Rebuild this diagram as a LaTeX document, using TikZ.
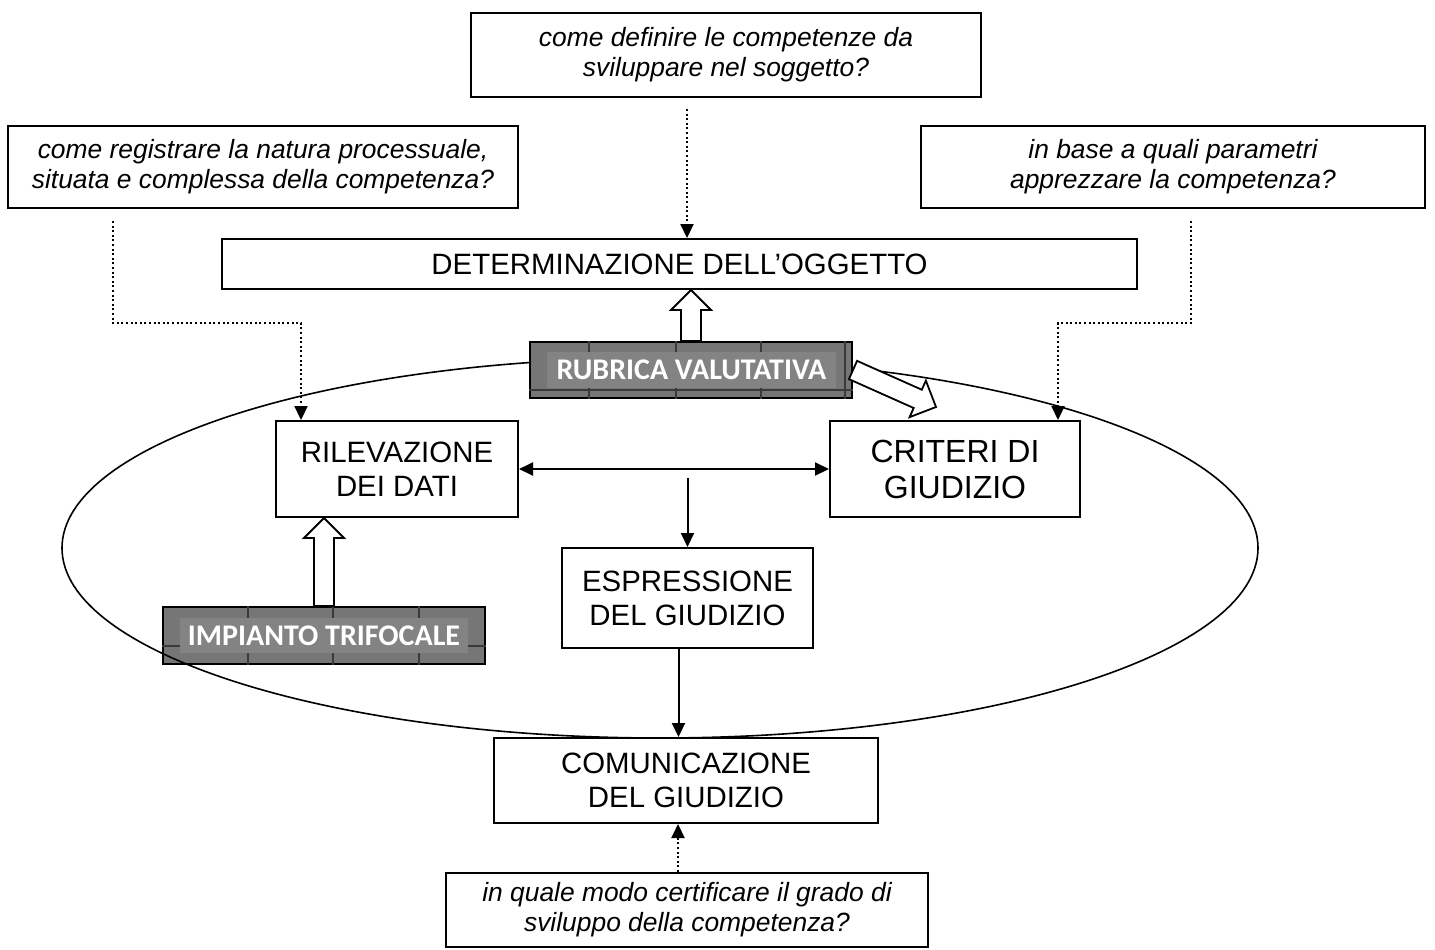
\documentclass[tikz,border=0pt]{standalone}
\usepackage[svgnames]{xcolor}
\usepackage{fontspec}
\setmainfont{Liberation Sans}
\newfontfamily\labelfamily{Carlito}
\usetikzlibrary{calc,arrows.meta}
\definecolor{rubricFill}{HTML}{767676}
\definecolor{rubricLabel}{HTML}{838383}
\colorlet{tableLine}{DimGray!55!black}

% hollow block arrow from #1 to #2
\newcommand{\blockarrow}[2]{%
  \coordinate (ba-head) at ($(#2)!10pt!(#1)$);
  \draw[block arrow] ($(#1)!5pt!90:(#2)$) -- ($(ba-head)!5pt!-90:(#1)$)
    -- ($(ba-head)!10pt!-90:(#1)$) -- (#2) -- ($(ba-head)!10pt!90:(#1)$)
    -- ($(ba-head)!5pt!90:(#1)$) -- ($(#1)!5pt!-90:(#2)$) -- cycle;
}

\begin{document}
\begin{tikzpicture}[
  x=0.5pt, y=-0.5pt,
  >={Triangle[length=7pt,width=6.5pt]},
  every box/.style={
    draw=black,
    line width=1pt,
    fill=white,
    align=center,
    inner sep=0pt,
  },
  question box/.style={
    every box/.try,
    font=\fontsize{13.2}{15}\selectfont\itshape,
  },
  step box/.style={
    every box/.try,
    font=\fontsize{14.7}{17}\selectfont,
  },
  rubric box/.style={
    draw=black,
    line width=1pt,
    fill=rubricFill,
    inner sep=0pt,
  },
  rubric label/.style={
    fill=rubricLabel,
    text=white,
    inner sep=0pt,
    font=\labelfamily\bfseries\fontsize{15}{16}\selectfont,
  },
  table line/.style={draw=tableLine, line width=0.6pt},
  ring/.style={draw=black, line width=0.8pt},
  link/.style={line width=1pt, ->},
  dot link/.style={line width=1.1pt, dash pattern=on 1pt off 1.3pt, ->},
  block arrow/.style={draw=black, fill=white, line width=0.9pt, line join=miter},
]
\useasboundingbox (0,0) rectangle (1435,949);

% questions
\node[question box, minimum width=255pt, minimum height=42pt] (qobj) at (726,55)
  {come definire le competenze da\\sviluppare nel soggetto?};
\node[question box, minimum width=255pt, minimum height=41pt] (qdati) at (263,167)
  {come registrare la natura processuale,\\situata e complessa della competenza?};
\node[question box, minimum width=252pt, minimum height=41pt] (qcrit) at (1173,167)
  {in base a quali parametri\\apprezzare la competenza?};
\node[question box, minimum width=241pt, minimum height=37pt] (qcom) at (687,910)
  {in quale modo certificare il grado di\\sviluppo della competenza?};

\node[step box, minimum width=457.5pt, minimum height=25pt] (ogg) at (679.5,264)
  {DETERMINAZIONE DELL’OGGETTO};

% impianto trifocale
\node[rubric box, minimum width=161pt, minimum height=28.5pt] (imp) at (324,635.5) {};
\foreach \gx in {248,333,419}
  \draw[table line] (\gx,0 |- imp.north) -- (\gx,0 |- imp.south);
\draw[table line] (imp.west |- 0,646) -- (imp.east |- 0,646);
\node[rubric label, minimum width=144pt, minimum height=17.5pt] (impLabel) at (324,635.5)
  {IMPIANTO TRIFOCALE};

\draw[ring] (660,548) ellipse [x radius=299pt, y radius=95pt];

% rubrica valutativa
\node[rubric box, minimum width=161pt, minimum height=28pt] (rub) at (691,370) {};
\foreach \gx in {589,676,761,845}
  \draw[table line] (\gx,0 |- rub.north) -- (\gx,0 |- rub.south);
\draw[table line] (rub.west |- 0,390) -- (rub.east |- 0,390);
\node[rubric label, minimum width=144.5pt, minimum height=18pt] (rubLabel) at (691.5,370)
  {RUBRICA VALUTATIVA};

\node[step box, minimum width=121pt, minimum height=48pt] (ril) at (397,469)
  {RILEVAZIONE\\DEI DATI};
\node[step box, minimum width=125pt, minimum height=48pt,
  font=\fontsize{16}{18}\selectfont] (crit) at (955,469) {CRITERI DI\\GIUDIZIO};
\node[step box, minimum width=125.5pt, minimum height=50pt] (espr) at (687.5,598)
  {ESPRESSIONE\\DEL GIUDIZIO};
\node[step box, minimum width=192pt, minimum height=42.5pt] (com) at (686,780.5)
  {COMUNICAZIONE\\DEL GIUDIZIO};

% block arrows
\coordinate (rubTip) at (rub.north |- ogg.south);
\blockarrow{rub.north}{rubTip}
\coordinate (impTip) at (imp.north |- ril.south);
\blockarrow{imp.north}{impTip}
\coordinate (critTip) at ($(crit.north west)+(107,-13)$);
\blockarrow{rub.east}{critTip}

% dotted links
\coordinate (o1) at ($(qobj.south)+(-39,11)$);
\draw[dot link] (o1) -- (o1 |- ogg.north);
\coordinate (l1) at ($(qdati.south west)+(106,12)$);
\coordinate (l2) at ($(ril.north west)+(26,0)$);
\draw[dot link] (l1) -- ++(0,102) -| (l2);
\coordinate (r1) at ($(qcrit.south west)+(271,12)$);
\coordinate (r2) at ($(crit.north east)+(-23,0)$);
\draw[dot link] (r1) -- ++(0,102) -| (r2);
\coordinate (c1) at ($(com.south)+(-8,0)$);
\draw[dot link] (c1 |- qcom.north) -- (c1);

% solid links
\draw[link, <->] (ril) -- (crit);
\draw[link] ($(espr.north)+(0,-69)$) -- (espr.north);
\coordinate (e1) at ($(espr.south)+(-9,0)$);
\draw[link] (e1) -- (e1 |- com.north);
\end{tikzpicture}
\end{document}
